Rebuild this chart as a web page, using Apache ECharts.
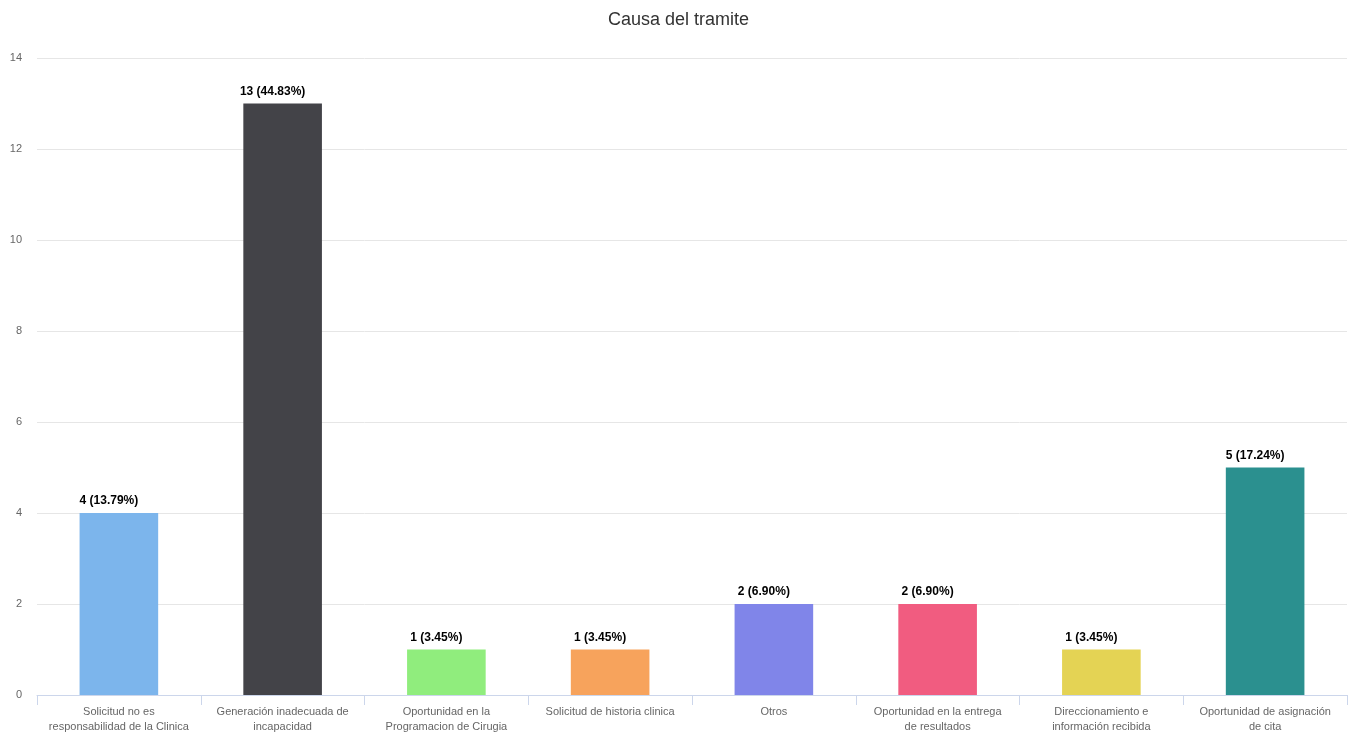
<!DOCTYPE html>
<html>
<head>
<meta charset="utf-8">
<title>Causa del tramite</title>
<script src="https://cdn.jsdelivr.net/npm/echarts@6/dist/echarts.min.js"></script>
<style>
  html, body { margin: 0; padding: 0; background: #ffffff; }
  #chart { width: 1357px; height: 734px; }
</style>
</head>
<body>
<div id="chart"></div>
<script>
// Categories (line breaks mark where each label wraps)
const categories = [
  'Solicitud no es\nresponsabilidad de la Clinica',
  'Generación inadecuada de\nincapacidad',
  'Oportunidad en la\nProgramacion de Cirugia',
  'Solicitud de historia clinica',
  'Otros',
  'Oportunidad en la entrega\nde resultados',
  'Direccionamiento e\ninformación recibida',
  'Oportunidad de asignación\nde cita'
];
const counts = [4, 13, 1, 1, 2, 2, 1, 5];
const barColors = ['#7cb5ec', '#434348', '#90ed7d', '#f7a35c', '#8085e9', '#f15c80', '#e4d354', '#2b908f'];
const yTicks = [0, 2, 4, 6, 8, 10, 12, 14];

const total = counts.reduce((a, b) => a + b, 0);
const fontFamily = '"Liberation Sans", Arial, Helvetica, sans-serif';

const chart = echarts.init(document.getElementById('chart'), null, { renderer: 'canvas' });
chart.setOption({
  animation: false,
  backgroundColor: '#ffffff',
  title: {
    text: 'Causa del tramite',
    left: 'center',
    top: 6,
    textStyle: { fontFamily, fontSize: 18, fontWeight: 'normal', color: '#333333' }
  },
  grid: { left: 37, right: 10, top: 58, bottom: 36, containLabel: false },
  xAxis: {
    type: 'category',
    data: categories,
    axisLine: { lineStyle: { color: '#ccd6eb', width: 1 } },
    axisTick: { show: true, alignWithLabel: false, length: 10, lineStyle: { color: '#ccd6eb' } },
    axisLabel: {
      interval: 0,
      fontFamily,
      fontSize: 11,
      color: '#666666',
      lineHeight: 15,
      margin: 9
    }
  },
  yAxis: {
    type: 'value',
    min: yTicks[0],
    max: yTicks[yTicks.length - 1],
    interval: 2,
    axisLine: { show: false },
    axisTick: { show: false },
    splitLine: { lineStyle: { color: '#e6e6e6', width: 1 } },
    axisLabel: { fontFamily, fontSize: 11, color: '#666666', margin: 15, align: 'right' }
  },
  series: [{
    type: 'bar',
    barWidth: '48%',
    data: counts.map((v, i) => ({ value: v, itemStyle: { color: barColors[i] } })),
    label: {
      show: true,
      position: 'top',
      distance: 6,
      offset: [-10, 0],
      fontFamily,
      fontSize: 12,
      fontWeight: 'bold',
      color: '#000000',
      formatter: p => p.value + ' (' + (p.value / total * 100).toFixed(2) + '%)'
    }
  }]
});
</script>
</body>
</html>
